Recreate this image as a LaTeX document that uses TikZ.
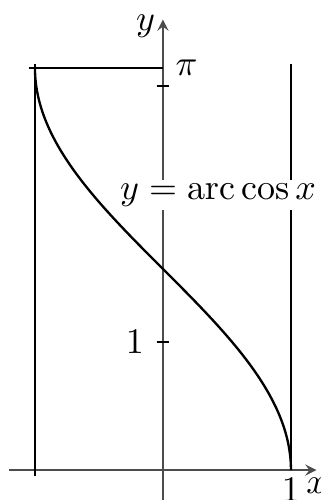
\documentclass[tikz,border=0pt]{standalone}
\usepackage{amsmath}
\usepackage{tikz}
\usetikzlibrary{arrows,positioning}

\begin{document}
\begin{tikzpicture}[x=1.25cm, y=1.25cm,
    axis/.style={->, >=stealth, line width=0.4pt, color=black!70},
    guide/.style={line width=0.4pt},
    tick/.style={line width=0.4pt},
    curve/.style={line width=0.65pt}]

    \useasboundingbox (-1.273,-0.234) rectangle (1.227,3.672);

    % axes
    \coordinate (xstart) at (-1.2,0);
    \coordinate (xend) at (1.2,0);
    \coordinate (ystart) at (0,-0.25);
    \coordinate (yend) at (0,3.52);
    \draw[axis] (xstart) -- (xend);
    \draw[axis] (ystart) -- (yend);
    \node[left, inner sep=2pt] (ylabel) at (0,3.47) {$y$};
    \node[below, inner sep=2pt] (xlabel) at (xend) {$x$};

    % bounds of the graph
    \draw[guide] (-1,-0.05) -- (-1,3.17);
    \draw[guide] (1,0) -- (1,3.17);
    \draw[guide] (-1.05,pi) -- (0,pi);

    % ticks
    \draw[tick] (-0.05,1) -- (0.05,1);
    \draw[tick] (-0.05,3) -- (0.05,3);
    \node[left] (yone) at (-0.05,1) {$1$};
    \node[right] (ypi) at (0,pi) {$\pi$};
    \node[below, inner sep=2pt] (xone) at (1,0) {$1$};

    \draw[curve] plot[domain=0:pi, samples=120, smooth] ({cos(\x r)}, \x);

    \node[fill=white, inner sep=1pt] (eq) at (0.43,2.15) {$y=\mathrm{arc}\cos x$};
\end{tikzpicture}
\end{document}
